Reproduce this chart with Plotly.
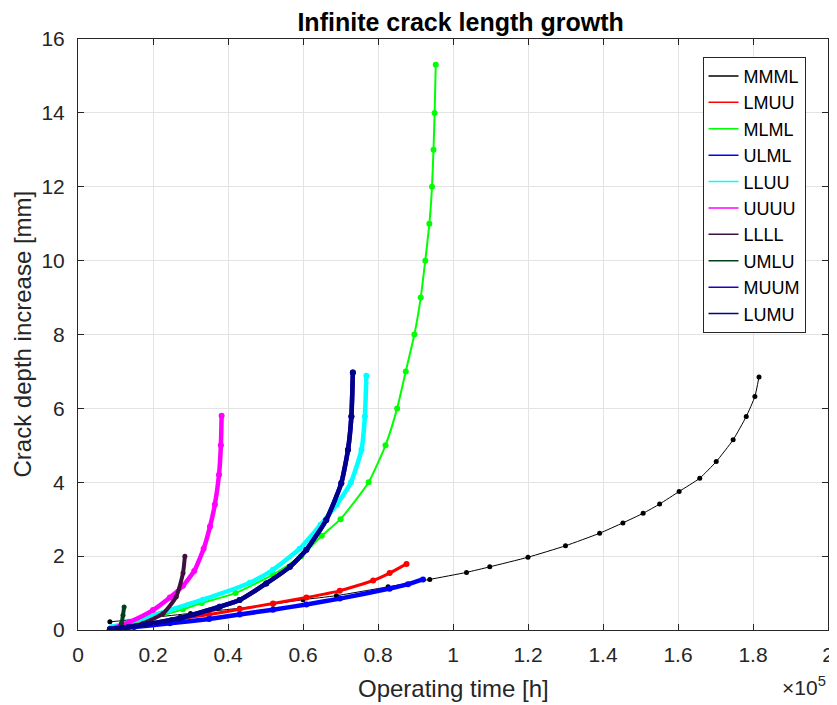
import plotly.graph_objects as go

# ---------------- data (x: operating time in hours, y: crack depth increase in mm)
names = ["MMML", "LMUU", "MLML", "ULML", "LLUU", "UUUU", "LLLL", "UMLU", "MUUM", "LUMU"]
colors = ["#000000", "#ff0000", "#00ff00", "#0000ff", "#00ffff", "#ff00ff",
          "#3f0f3f", "#00401c", "#2000c0", "#00008c"]

mmml_x = [8500, 20000, 30000, 43100, 52000, 60000, 68900, 82700, 93800, 103600, 109800,
          120000, 130000, 139100, 145300, 150700, 155100, 160300, 165800, 170200, 174700,
          178200, 180500, 181600]
mmml_y = [0.22, 0.34, 0.45, 0.59, 0.70, 0.82, 0.93, 1.17, 1.37, 1.56, 1.71,
          1.97, 2.28, 2.62, 2.90, 3.16, 3.41, 3.75, 4.11, 4.56, 5.15,
          5.78, 6.32, 6.85]

lmuu_x = [8500, 15000, 25000, 35000, 43100, 52000, 60900, 69800, 78700, 83100, 87600]
lmuu_y = [0.02, 0.12, 0.27, 0.42, 0.56, 0.72, 0.88, 1.06, 1.34, 1.54, 1.79]

mlml_x = [8500, 15000, 20000, 28000, 33000, 42000, 52000, 59500, 65000, 70000, 77500,
          82000, 85100, 87400, 89700, 91400, 92600, 93700, 94400, 94800, 95100, 95400]
mlml_y = [0.03, 0.20, 0.33, 0.56, 0.73, 1.00, 1.50, 2.00, 2.55, 3.00, 4.00,
          5.00, 6.00, 7.00, 8.00, 9.00, 10.00, 11.00, 12.00, 13.00, 14.00, 15.30]

ulml_x = [8500, 15000, 24500, 35000, 43100, 52000, 60900, 69800, 83100, 88000, 92000]
ulml_y = [0.00, 0.08, 0.18, 0.30, 0.42, 0.55, 0.69, 0.85, 1.12, 1.24, 1.37]

lluu_x = [9000, 17000, 24500, 33300, 45800, 52000, 59100, 64700, 69000, 72800, 75600,
          76500, 76900]
lluu_y = [0.08, 0.30, 0.54, 0.82, 1.28, 1.63, 2.20, 2.85, 3.40, 4.00, 4.88,
          5.78, 6.88]

uuuu_x = [9000, 13800, 20000, 24500, 28000, 31000, 33500, 35200, 36500, 37600, 38100, 38300]
uuuu_y = [0.03, 0.22, 0.54, 0.88, 1.20, 1.60, 2.20, 2.80, 3.40, 4.20, 5.00, 5.80]

llll_x = [9000, 13000, 17400, 22700, 26200, 28000, 28500]
llll_y = [0.03, 0.08, 0.18, 0.45, 0.90, 1.54, 2.00]

umlu_x = [8500, 11000, 11600, 12000, 12300]
umlu_y = [0.00, 0.03, 0.18, 0.40, 0.62]

lumu_x = [8500, 18000, 27100, 37800, 43100, 50200, 56500, 60900, 66200, 70200, 72000,
          72900, 73300]
lumu_y = [0.02, 0.15, 0.32, 0.63, 0.81, 1.26, 1.71, 2.17, 2.98, 3.97, 4.88,
          5.78, 6.97]
muum_x = lumu_x
muum_y = lumu_y

series_x = [mmml_x, lmuu_x, mlml_x, ulml_x, lluu_x, uuuu_x, llll_x, umlu_x, muum_x, lumu_x]
series_y = [mmml_y, lmuu_y, mlml_y, ulml_y, lluu_y, uuuu_y, llll_y, umlu_y, muum_y, lumu_y]
line_w = [1, 3, 2, 4.5, 4.5, 4.5, 4, 4, 4.5, 4.5]
marker_s = [5, 6, 6, 6, 6, 6, 5, 5, 6, 6]

x_tickvals = [0, 20000, 40000, 60000, 80000, 100000, 120000, 140000, 160000, 180000, 200000]
x_ticktext = ["0", "0.2", "0.4", "0.6", "0.8", "1", "1.2", "1.4", "1.6", "1.8", "2"]
y_tickvals = [0, 2, 4, 6, 8, 10, 12, 14, 16]

FONT = "Liberation Sans, Arial, Helvetica, sans-serif"
AX = "#262626"

fig = go.Figure()
for i, n in enumerate(names):
    fig.add_trace(go.Scatter(
        x=series_x[i], y=series_y[i], mode="lines+markers", name=n,
        line=dict(color=colors[i], width=line_w[i], shape="spline", smoothing=0.5),
        marker=dict(color=colors[i], size=marker_s[i]),
        showlegend=False, hoverinfo="skip"))
# legend entries (thin line samples as in the original)
for i, n in enumerate(names):
    fig.add_trace(go.Scatter(x=[None], y=[None], mode="lines", name=n,
                             line=dict(color=colors[i], width=1.5)))

# page body has an 8px default margin: figure is sized/offset to compensate
fig.update_layout(
    width=829, height=697,
    margin=dict(l=70, r=9, t=31, b=75, autoexpand=False),
    paper_bgcolor="white", plot_bgcolor="white",
    font=dict(family=FONT, color=AX, size=20),
    title=dict(text="<b>Infinite crack length growth</b>", x=0.546, xanchor="center",
               y=1 - 14 / 697, yanchor="middle", yref="container",
               font=dict(family=FONT, size=25, color="#000000")),
    showlegend=True,
    legend=dict(x=0.97, xanchor="right", y=0.97, yanchor="top",
                bgcolor="white", bordercolor=AX, borderwidth=1,
                font=dict(family=FONT, size=18, color="#000000"),
                tracegroupgap=0, itemwidth=30),
    xaxis=dict(range=[0, 200000], tickvals=x_tickvals, ticktext=x_ticktext,
               showgrid=True, gridcolor="#e3e3e3", gridwidth=1, automargin=False,
               showline=True, linecolor=AX, linewidth=1, mirror="ticks",
               ticks="inside", ticklen=6, tickcolor=AX, zeroline=False,
               tickfont=dict(family=FONT, size=21, color=AX), ticklabelstandoff=6),
    yaxis=dict(range=[0, 16], tickvals=y_tickvals, automargin=False,
               showgrid=True, gridcolor="#e3e3e3", gridwidth=1,
               showline=True, linecolor=AX, linewidth=1, mirror="ticks",
               ticks="inside", ticklen=6, tickcolor=AX, zeroline=False,
               tickfont=dict(family=FONT, size=21, color=AX), ticklabelstandoff=8),
    annotations=[
        dict(text="Operating time [h]", xref="paper", yref="paper", x=0.5, y=-58 / 591,
             xanchor="center", yanchor="middle", showarrow=False,
             font=dict(family=FONT, size=24, color=AX)),
        dict(text="Crack depth increase [mm]", xref="paper", yref="paper",
             x=-56 / 750, y=0.5, xanchor="center", yanchor="middle", textangle=-90,
             showarrow=False, font=dict(family=FONT, size=24, color=AX)),
        dict(text="×10<sup>5</sup>", xref="paper", yref="paper", x=1.0, y=-56 / 591,
             xanchor="right", yanchor="middle", showarrow=False,
             font=dict(family=FONT, size=21, color=AX)),
    ],
)

fig.write_html("out.html")
